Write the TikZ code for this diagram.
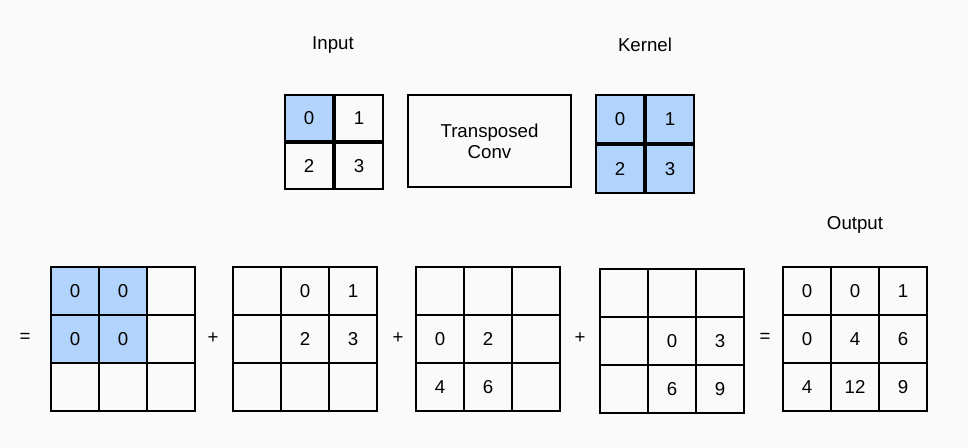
\documentclass[tikz,border=0pt]{standalone}
\usepackage{fontspec}
\setmainfont{Liberation Sans}
\usetikzlibrary{positioning}
\definecolor{cellblue}{RGB}{178,212,252}
\definecolor{bgcol}{RGB}{250,250,250}
\tikzset{
  cell/.style={draw,line width=1.5pt,minimum width=36pt,minimum height=36pt,inner sep=0pt,font=\fontsize{14}{16}\selectfont},
  blue/.style={fill=cellblue},
  lbl/.style={font=\fontsize{14}{16}\selectfont}
}
\begin{document}
\begin{tikzpicture}[x=0.75pt,y=-0.75pt]
\fill[bgcol] (0,0) rectangle (968,448);
\useasboundingbox (0,0) rectangle (968,448);

%Input
\node[lbl] (inlbl) at (333,45) {Input};
\node[cell,blue,minimum height=34.5pt] (in0) at (309,118) {0};
\node[cell,minimum height=34.5pt,right=0pt of in0] (in1) {1};
\node[cell,minimum height=34.5pt,below=0pt of in0] (in2) {2};
\node[cell,minimum height=34.5pt,right=0pt of in2] (in3) {3};

%Operator
\node[draw,line width=1.5pt,minimum width=122pt,minimum height=69pt,align=center,lbl] (tconv) at (489.5,141) {Transposed\\Conv};

%Kernel
\node[lbl] (klbl) at (645,45) {Kernel};
\node[cell,blue] (k0) at (620,119) {0};
\node[cell,blue,right=0pt of k0] (k1) {1};
\node[cell,blue,below=0pt of k0] (k2) {2};
\node[cell,blue,right=0pt of k2] (k3) {3};

%Sum
\node[lbl] (eqa) at (25,338) {=};
\node[lbl] (pla) at (213,338) {+};
\node[lbl] (plb) at (398,338) {+};
\node[lbl] (plc) at (580,338) {+};
\node[lbl] (eqb) at (765,338) {=};
\node[lbl] (outlbl) at (855,225) {Output};

% grids: name/x/y, then contents
\foreach \g/\gx/\gy in {a/75/291,b/257/291,c/440/291,d/624/293,e/807/291}{
  \foreach \r in {0,1,2}{
    \foreach \c in {0,1,2}{
      \node[cell] (\g\r\c) at (\gx+48*\c,\gy+48*\r) {};
    }
  }
}
\foreach \n in {a00,a01,a10,a11}{
  \node[cell,blue] at (\n) {0};
}
\foreach \n/\v in {b01/0,b02/1,b11/2,b12/3,c10/0,c11/2,c20/4,c21/6,
  d11/0,d12/3,d21/6,d22/9,e00/0,e01/0,e02/1,e10/0,e11/4,e12/6,e20/4,e21/12,e22/9}{
  \node[lbl] at (\n) {\v};
}
\end{tikzpicture}
\end{document}
